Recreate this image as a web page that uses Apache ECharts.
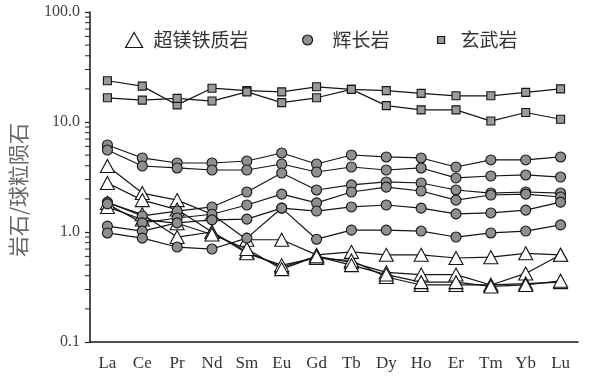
<!DOCTYPE html>
<html>
<head>
<meta charset="utf-8">
<script src="https://cdn.jsdelivr.net/npm/echarts@6/dist/echarts.min.js"></script>
<style>
html,body{margin:0;padding:0;background:#fff;}
#chart{width:591px;height:376px;}
</style>
</head>
<body>
<div id="chart"></div>
<script>
// Categories (REE)
const categories = ['La','Ce','Pr','Nd','Sm','Eu','Gd','Tb','Dy','Ho','Er','Tm','Yb','Lu'];
// Y-axis tick labels
const yTickValues = [0.1, 1, 10, 100];
const yMinorTickValues = [0.2,0.3,0.4,0.5,0.6,0.7,0.8,0.9,2,3,4,5,6,7,8,9,20,30,40,50,60,70,80,90];

// 超镁铁质岩 (ultramafic)
const ultra1 = [3.98, 2.26, 1.95, 1.45, 0.85, 0.85, 0.62, 0.66, 0.62, 0.62, 0.58, 0.59, 0.64, 0.62];
const ultra2 = [2.79, 1.95, 1.60, 1.00, 0.66, 0.48, 0.60, 0.53, 0.43, 0.41, 0.41, 0.33, 0.42, 0.62];
const ultra3 = [1.84, 1.45, 0.90, 1.00, 0.64, 0.50, 0.58, 0.55, 0.39, 0.33, 0.33, 0.33, 0.34, 0.35];
const ultra4 = [1.69, 1.30, 1.20, 0.95, 0.70, 0.46, 0.60, 0.50, 0.41, 0.35, 0.35, 0.32, 0.33, 0.36];

// 辉长岩 (gabbro)
const gabbro1 = [6.18, 4.71, 4.24, 4.24, 4.42, 5.23, 4.15, 5.01, 4.81, 4.71, 3.90, 4.52, 4.52, 4.81];
const gabbro2 = [5.56, 3.98, 3.82, 3.66, 3.66, 4.15, 3.51, 3.90, 3.66, 3.82, 3.10, 3.23, 3.30, 3.16];
const gabbro3 = [1.87, 1.40, 1.55, 1.69, 2.31, 3.44, 2.41, 2.68, 2.85, 2.79, 2.41, 2.26, 2.31, 2.26];
const gabbro4 = [1.80, 1.21, 1.34, 1.45, 1.76, 2.21, 1.84, 2.31, 2.56, 2.36, 1.95, 2.17, 2.21, 2.08];
const gabbro5 = [1.13, 1.02, 1.21, 1.29, 1.31, 1.65, 1.55, 1.69, 1.76, 1.65, 1.46, 1.49, 1.58, 1.87];
const gabbro6 = [0.98, 0.88, 0.73, 0.70, 0.88, 1.65, 0.86, 1.04, 1.04, 1.02, 0.90, 0.98, 1.02, 1.16];

// 玄武岩 (basalt)
const basalt1 = [23.7, 21.2, 14.3, 20.3, 19.3, 18.8, 20.9, 19.8, 19.3, 18.2, 17.3, 17.3, 18.6, 20.0];
const basalt2 = [16.6, 15.8, 16.4, 15.5, 18.8, 15.0, 16.6, 19.8, 14.1, 12.9, 12.9, 10.2, 12.2, 10.6];

const NAME_U = '超镁铁质岩', NAME_G = '辉长岩', NAME_B = '玄武岩';
const serif = '"Liberation Serif", "DejaVu Serif", serif';
const cjk = '"Noto Sans CJK SC", sans-serif';

function lineSeries(name, data, symbol, size, fill) {
  return {
    type: 'line', name: name, data: data,
    symbol: symbol, symbolSize: size,
    showAllSymbol: true,
    lineStyle: { color: '#151515', width: 1.2 },
    itemStyle: { color: fill, borderColor: '#151515', borderWidth: 1.1 },
    emphasis: { disabled: true },
    z: 3
  };
}

const series = [];
[ultra1, ultra2, ultra3, ultra4].forEach(d => series.push(lineSeries(NAME_U, d, 'triangle', [14, 13], '#ffffff')));
[gabbro1, gabbro2, gabbro3, gabbro4, gabbro5, gabbro6].forEach(d => series.push(lineSeries(NAME_G, d, 'circle', 10, '#8f8f8f')));
[basalt1, basalt2].forEach(d => series.push(lineSeries(NAME_B, d, 'rect', 8, '#9a9a9a')));

// minor log ticks on the y axis, positioned by the axis scale
series.push({
  type: 'custom',
  name: 'minorTicks',
  silent: true,
  clip: false,
  data: yMinorTickValues.map(v => [0, v]),
  renderItem: function (params, api) {
    const y = api.coord([0, api.value(1)])[1];
    const x0 = params.coordSys.x;
    return { type: 'line', shape: { x1: x0 - 5, y1: y, x2: x0, y2: y },
             style: { stroke: '#222', lineWidth: 1 } };
  },
  z: 2
});

function legendOf(name, icon, w, h, fill, left, pad) {
  return {
    left: left, top: 24,
    itemWidth: w, itemHeight: h,
    selectedMode: false,
    data: [{ name: name, icon: icon,
             itemStyle: { color: fill, borderColor: '#151515', borderWidth: 1.2 } }],
    textStyle: { fontFamily: cjk, fontSize: 19, color: '#333', padding: [0, 0, 0, pad], lineHeight: 22 }
  };
}

const chart = echarts.init(document.getElementById('chart'), null, { renderer: 'canvas' });
chart.setOption({
  animation: false,
  backgroundColor: '#ffffff',
  grid: { left: 90, right: 13, top: 12, bottom: 34, containLabel: false },
  legend: [
    legendOf(NAME_U, 'triangle', 17, 15, '#ffffff', 120, 6),
    legendOf(NAME_G, 'circle', 10, 10, '#8f8f8f', 297, 15),
    legendOf(NAME_B, 'rect', 7, 7, '#9a9a9a', 432, 11)
  ],
  xAxis: {
    type: 'category', data: categories, boundaryGap: true,
    axisLine: { lineStyle: { color: '#151515', width: 1.5 } },
    axisTick: { alignWithLabel: true, length: 6, lineStyle: { color: '#151515', width: 1.2 } },
    axisLabel: { fontFamily: serif, fontSize: 17, color: '#333', margin: 13, interval: 0 },
    splitLine: { show: false }
  },
  yAxis: {
    type: 'log', logBase: 10, min: 0.1, max: 100,
    axisLine: { show: true, lineStyle: { color: '#151515', width: 1.5 } },
    axisTick: { show: true, length: 5, lineStyle: { color: '#222', width: 1.2 } },
    axisLabel: { fontFamily: serif, fontSize: 16, color: '#444', margin: 10,
                 formatter: v => (yTickValues.some(t => Math.abs(t - v) < 1e-9) ? Number(v).toFixed(1) : '') },
    splitLine: { show: false }
  },
  graphic: [{
    type: 'text', x: 18, y: 190, rotation: Math.PI / 2,
    style: { text: '岩石/球粒陨石', font: '21px "Noto Sans CJK SC", sans-serif',
             fill: '#666', align: 'center', verticalAlign: 'middle' }
  }],
  series: series
});
</script>
</body>
</html>
